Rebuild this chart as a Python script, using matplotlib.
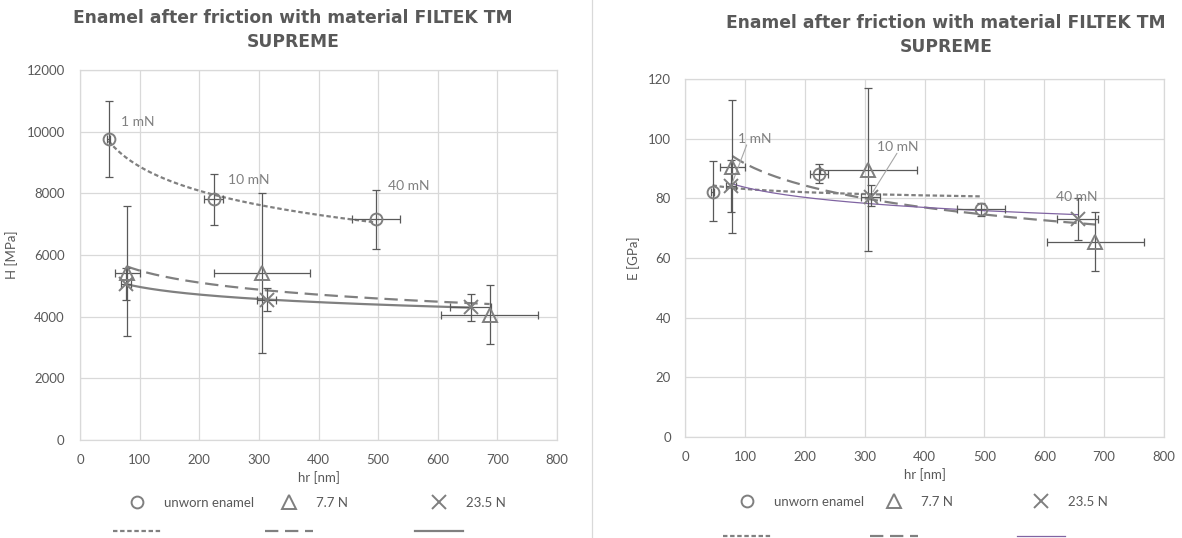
import numpy as np
import matplotlib
matplotlib.use("Agg")
import matplotlib.pyplot as plt
from matplotlib.lines import Line2D

plt.rcParams['font.family'] = ['Lato', 'DejaVu Sans']

# ---------------- data: hardness H (left chart) ----------------
series_names = ["unworn enamel", "7.7 N", "23.5 N"]

H_unworn_x = [48, 224, 496]
H_unworn_y = [9750, 7805, 7157]
H_unworn_xerr = [3, 16, 40]
H_unworn_yerr = [1230, 830, 960]

H_77_x = [79, 305, 687]
H_77_y = [5420, 5420, 4065]
H_77_xerr = [21, 81, 81]
H_77_yerr_lo = [2060, 2600, 955]
H_77_yerr_hi = [2160, 2580, 975]

H_235_x = [77, 313, 655]
H_235_y = [5060, 4550, 4300]
H_235_xerr = [8, 16, 34]
H_235_yerr = [520, 370, 450]

H_labels = ["1 mN", "10 mN", "40 mN"]
H_label_x = [69, 248, 516]
H_label_y = [10300, 8430, 8250]

# ---------------- data: modulus E (right chart) ----------------
E_unworn_x = [46, 223, 494]
E_unworn_y = [82.2, 88.3, 76.4]
E_unworn_xerr = [3, 15, 40]
E_unworn_yerr_lo = [9.7, 3.0, 2.2]
E_unworn_yerr_hi = [10.2, 3.3, 2.1]

E_77_x = [79, 306, 685]
E_77_y = [90.6, 89.4, 65.2]
E_77_xerr = [21, 81, 81]
E_77_yerr_lo = [22.2, 27.2, 9.6]
E_77_yerr_hi = [22.5, 27.6, 10.3]

E_235_x = [77, 310, 656]
E_235_y = [84.2, 80.4, 73.1]
E_235_xerr = [8, 16, 34]
E_235_yerr_lo = [8.8, 3.1, 6.9]
E_235_yerr_hi = [8.8, 4.2, 6.9]

E_labels = ["1 mN", "10 mN", "40 mN"]
E_label_x = [88, 320, 620]
E_label_y = [100, 97.3, 80.4]
E_leader_from = [(103, 97.9), (354, 95.1)]
E_leader_to = [(79, 85.2), (314, 82.2)]

# ---------------- styling ----------------
W, Hpx = 1182, 538
fig = plt.figure(figsize=(W / 100, Hpx / 100), dpi=100)
fig.patch.set_facecolor('white')

TXT = '#595959'
GRID = '#d9d9d9'
MK = '#7f7f7f'
ERR = '#595959'
TREND = '#808080'
PURPLE = '#8064a2'
FS = 9.5
TITLE = 'Enamel after friction with material FILTEK TM'


def fx(px):
    return px / W


def fy(py):
    return 1 - py / Hpx


def log_fit_line(ax, x, y, **kw):
    x = np.asarray(x, float)
    y = np.asarray(y, float)
    a, b = np.polyfit(np.log(x), y, 1)
    xs = np.linspace(x.min(), x.max(), 200)
    return ax.plot(xs, a * np.log(xs) + b, **kw)[0]


def style_axes(ax, ymax, ystep, ylabel, ypad):
    ax.set_xlim(0, 800)
    ax.set_ylim(0, ymax)
    ax.set_xticks(np.arange(0, 801, 100))
    ax.set_yticks(np.arange(0, ymax + 1, ystep))
    ax.grid(True, color=GRID, lw=0.9)
    ax.set_axisbelow(True)
    for s in ax.spines.values():
        s.set_color(GRID)
        s.set_linewidth(0.9)
    ax.tick_params(length=0, colors=TXT, labelsize=FS)
    ax.tick_params(axis='x', pad=10)
    ax.tick_params(axis='y', pad=ypad)
    ax.set_xlabel('hr [nm]', color=TXT, fontsize=FS, labelpad=4)
    ax.set_ylabel(ylabel, color=TXT, fontsize=FS, labelpad=6)


def draw_series(ax, x, y, xerr, yerr, marker, ms):
    ax.errorbar(x, y, xerr=xerr, yerr=yerr, fmt='none', ecolor=ERR,
                elinewidth=0.9, capsize=3, capthick=0.9, zorder=3)
    return ax.plot(x, y, linestyle='none', marker=marker, ms=ms,
                   mfc='none', mec=MK, mew=1.4, zorder=4)[0]


def add_legend(handles, labels, x_px, y_px, spacing):
    return fig.legend(handles, labels, loc='upper left',
                      bbox_to_anchor=(fx(x_px), fy(y_px)), frameon=False,
                      fontsize=FS, handlelength=3.6, handletextpad=0.3,
                      borderpad=0, borderaxespad=0, labelspacing=spacing,
                      labelcolor=TXT)


# ================= LEFT CHART =================
ax1 = fig.add_axes([fx(80), fy(440), fx(557 - 80), (440 - 70) / Hpx])
style_axes(ax1, 12000, 2000, 'H [MPa]', 11)

m1 = draw_series(ax1, H_unworn_x, H_unworn_y, H_unworn_xerr, H_unworn_yerr, 'o', 8.5)
m2 = draw_series(ax1, H_77_x, H_77_y, H_77_xerr, [H_77_yerr_lo, H_77_yerr_hi], '^', 9.5)
m3 = draw_series(ax1, H_235_x, H_235_y, H_235_xerr, H_235_yerr, 'x', 9.5)

log_fit_line(ax1, H_unworn_x, H_unworn_y, color=TREND, lw=1.6,
             ls=(0, (2, 1.2)), zorder=2)
log_fit_line(ax1, H_77_x, H_77_y, color=TREND, lw=1.6, ls=(0, (6, 3)), zorder=2)
log_fit_line(ax1, H_235_x, H_235_y, color=TREND, lw=1.6, zorder=2)

for s, xx, yy in zip(H_labels, H_label_x, H_label_y):
    ax1.text(xx, yy, s, color=TREND, fontsize=10, va='center', ha='left')

fig.text(fx(293), fy(18), TITLE, ha='center', va='center', fontsize=12.3,
         fontweight='bold', color=TXT, family='DejaVu Sans')
fig.text(fx(293), fy(42), 'SUPREME', ha='center', va='center',
         fontsize=12.3, fontweight='bold', color=TXT, family='DejaVu Sans')

add_legend([m1, Line2D([], [], color=TREND, lw=1.6, ls=(0, (2, 1.2)))],
           ['unworn enamel', ' '], 113, 497, 1.25)
add_legend([m2, Line2D([], [], color=TREND, lw=1.6, ls=(0, (6, 3)))],
           ['7.7 N', ' '], 265, 497, 1.25)
add_legend([m3, Line2D([], [], color=TREND, lw=1.6)],
           ['23.5 N', ' '], 415, 497, 1.25)

# ================= RIGHT CHART =================
ax2 = fig.add_axes([fx(685), fy(437), fx(1164 - 685), (437 - 79) / Hpx])
style_axes(ax2, 120, 20, 'E [GPa]', 10)

n1 = draw_series(ax2, E_unworn_x, E_unworn_y, E_unworn_xerr,
                 [E_unworn_yerr_lo, E_unworn_yerr_hi], 'o', 8.5)
n2 = draw_series(ax2, E_77_x, E_77_y, E_77_xerr, [E_77_yerr_lo, E_77_yerr_hi], '^', 9.5)
n3 = draw_series(ax2, E_235_x, E_235_y, E_235_xerr, [E_235_yerr_lo, E_235_yerr_hi], 'x', 9.5)

log_fit_line(ax2, E_unworn_x, E_unworn_y, color=TREND, lw=1.6,
             ls=(0, (2, 1.2)), zorder=2)
log_fit_line(ax2, E_77_x, E_77_y, color=TREND, lw=1.6, ls=(0, (6, 3)), zorder=2)
log_fit_line(ax2, E_235_x, E_235_y, color=PURPLE, lw=0.9, zorder=2)

for s, xx, yy in zip(E_labels, E_label_x, E_label_y):
    ax2.text(xx, yy, s, color=TREND, fontsize=10, va='center', ha='left')
for p0, p1 in zip(E_leader_from, E_leader_to):
    ax2.annotate('', xy=p1, xytext=p0,
                 arrowprops=dict(arrowstyle='-', color='#a6a6a6', lw=0.8,
                                 shrinkA=0, shrinkB=0))

fig.text(fx(946), fy(23), TITLE, ha='center', va='center', fontsize=12.3,
         fontweight='bold', color=TXT, family='DejaVu Sans')
fig.text(fx(946), fy(47), 'SUPREME', ha='center', va='center',
         fontsize=12.3, fontweight='bold', color=TXT, family='DejaVu Sans')

add_legend([n1, Line2D([], [], color=TREND, lw=1.6, ls=(0, (2, 1.2)))],
           ['unworn enamel', ' '], 723, 496, 1.75)
add_legend([n2, Line2D([], [], color=TREND, lw=1.6, ls=(0, (6, 3)))],
           ['7.7 N', ' '], 870, 496, 1.75)
add_legend([n3, Line2D([], [], color=PURPLE, lw=0.9)],
           ['23.5 N', ' '], 1017, 496, 1.75)

# separator between the two charts
fig.add_artist(Line2D([fx(592), fx(592)], [0, 1], color=GRID, lw=0.9,
                      transform=fig.transFigure))

fig.savefig('out.png', dpi=100, facecolor='white')
